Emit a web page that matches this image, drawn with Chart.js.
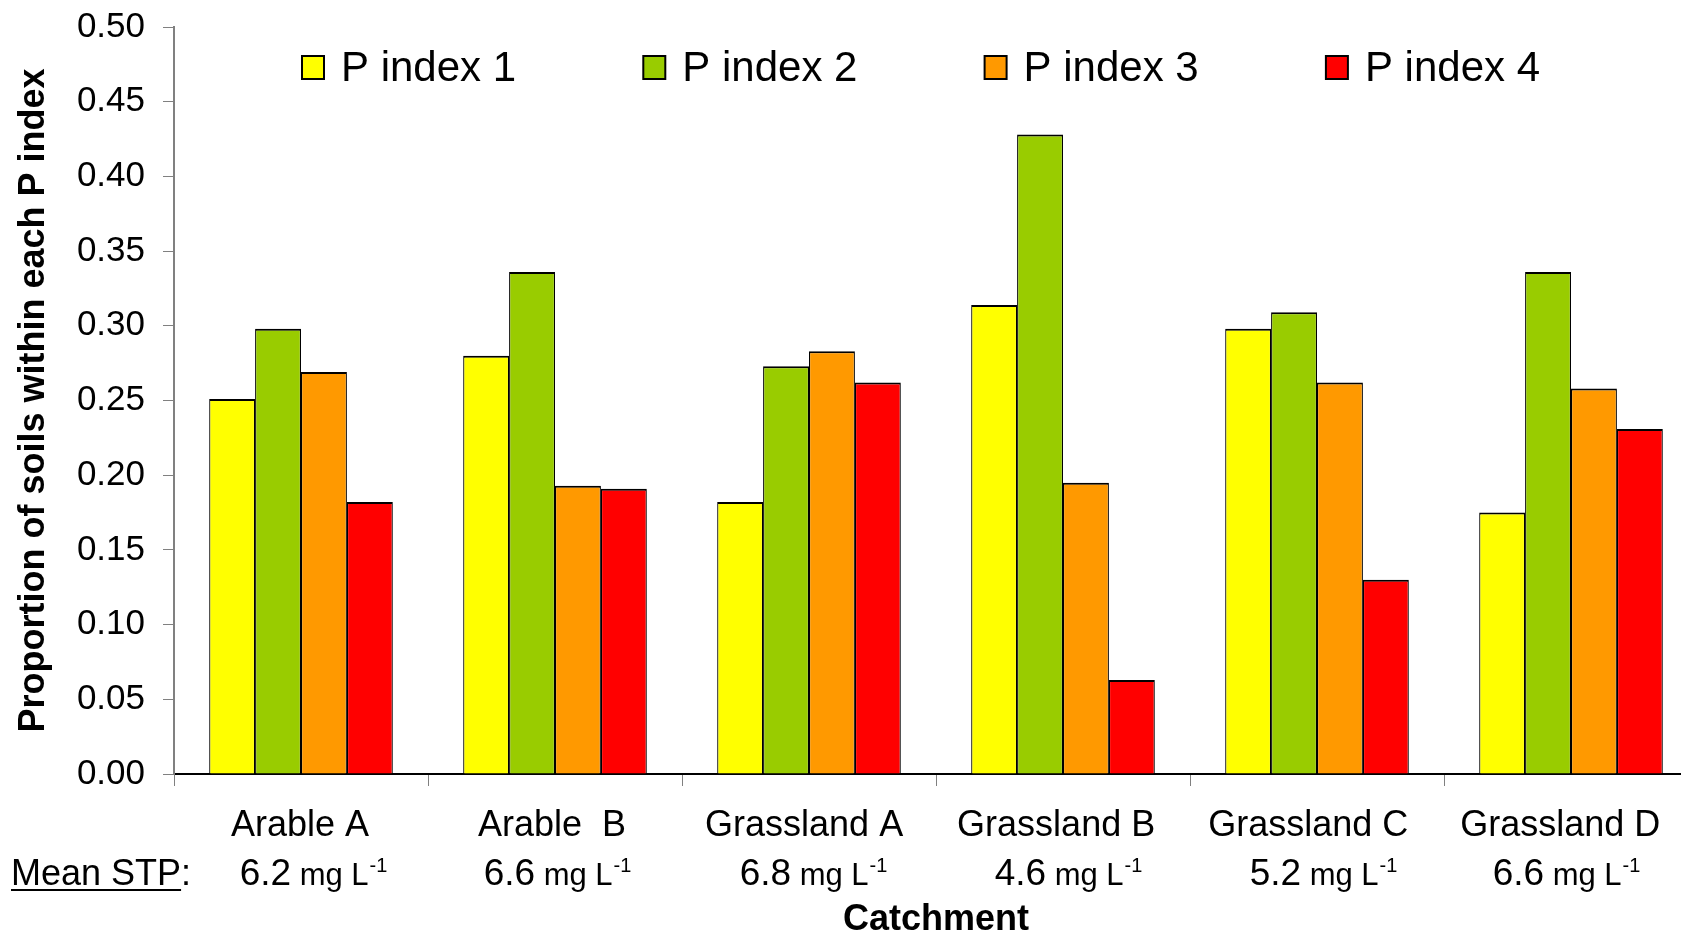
<!DOCTYPE html>
<html>
<head>
<meta charset="utf-8">
<title>Proportion of soils within each P index</title>
<script src="https://cdn.jsdelivr.net/npm/chart.js@4.4.1/dist/chart.umd.min.js"></script>
<style>
  html, body { margin: 0; padding: 0; background: #ffffff; overflow: hidden; }
  #wrap { width: 1720px; height: 932px; }
</style>
</head>
<body>
<div id="wrap"><canvas id="chart" width="1720" height="932"></canvas></div>
<script>
// Catchments and their mean soil test phosphorus (mg L-1)
const catchments = ['Arable A', 'Arable  B', 'Grassland A', 'Grassland B', 'Grassland C', 'Grassland D'];
const meanStp = [6.2, 6.6, 6.8, 4.6, 5.2, 6.6];

// Proportion of soils falling in each P index class
const pIndex1 = [0.251, 0.280, 0.182, 0.314, 0.298, 0.175];
const pIndex2 = [0.298, 0.336, 0.273, 0.428, 0.309, 0.336];
const pIndex3 = [0.269, 0.193, 0.283, 0.195, 0.262, 0.258];
const pIndex4 = [0.182, 0.191, 0.262, 0.063, 0.130, 0.231];

const seriesNames = ['P index 1', 'P index 2', 'P index 3', 'P index 4'];
const seriesColors = ['#FFFF00', '#99CC00', '#FF9900', '#FF0000'];

// Hand-placed horizontal nudges (px) for the STP text boxes under each catchment
const stpNudge = [12, 2, 4, 5, 6, -5];
// Category names sit at a slightly tighter pitch than the bar groups
const labelPitch = 0.9923;

const FONT = '"Liberation Sans", Arial, Helvetica, sans-serif';

// Legend laid out in a single row inside the plot area
const insideLegend = {
  id: 'insideLegend',
  afterDraw(chart) {
    const ctx = chart.ctx;
    ctx.save();
    ctx.font = '42px ' + FONT;
    ctx.textBaseline = 'middle';
    ctx.textAlign = 'left';
    chart.data.datasets.forEach((ds, i) => {
      const x = 302 + i * 341.3;
      const y = 67;
      ctx.fillStyle = ds.backgroundColor;
      ctx.fillRect(x, y - 11, 22, 23);
      ctx.strokeStyle = '#000000';
      ctx.lineWidth = 2;
      ctx.strokeRect(x, y - 11, 22, 23);
      ctx.fillStyle = '#000000';
      ctx.fillText(ds.label, x + 39, y + 2);
    });
    ctx.restore();
  }
};

// Category names and, below them, the mean STP of each catchment
const categoryRows = {
  id: 'categoryRows',
  afterDraw(chart) {
    const ctx = chart.ctx;
    const xs = chart.scales.x;
    const left = chart.chartArea.left;
    ctx.save();
    ctx.fillStyle = '#000000';

    // first row: catchment names
    ctx.font = '36px ' + FONT;
    ctx.textAlign = 'center';
    ctx.textBaseline = 'middle';
    catchments.forEach((name, i) => {
      const cx = left + (xs.getPixelForValue(i) - left) * labelPitch;
      ctx.fillText(name, cx, 826);
    });

    // second row: mean STP
    const base = 885;
    ctx.textAlign = 'left';
    ctx.textBaseline = 'alphabetic';
    ctx.font = '36px ' + FONT;
    const head = 'Mean STP';
    const hw = ctx.measureText(head).width;
    ctx.fillText(head, 11, base);
    ctx.fillText(':', 11 + hw, base);
    ctx.fillRect(11, base + 4, hw, 2);

    meanStp.forEach((v, i) => {
      const num = v.toFixed(1);
      const unit = ' mg L';
      const sup = '-1';
      ctx.font = '37px ' + FONT;
      const wn = ctx.measureText(num).width;
      ctx.font = '31px ' + FONT;
      const wu = ctx.measureText(unit).width;
      ctx.font = '20px ' + FONT;
      const ws = ctx.measureText(sup).width;
      const cx = xs.getPixelForValue(i) + stpNudge[i];
      let x = cx - (wn + wu + ws) / 2;
      ctx.font = '37px ' + FONT;
      ctx.fillText(num, x, base);
      x += wn;
      ctx.font = '31px ' + FONT;
      ctx.fillText(unit, x, base);
      x += wu;
      ctx.font = '20px ' + FONT;
      ctx.fillText(sup, x + 1, base - 13);
    });
    ctx.restore();
  }
};

const series = [pIndex1, pIndex2, pIndex3, pIndex4];

new Chart(document.getElementById('chart'), {
  type: 'bar',
  data: {
    labels: catchments,
    datasets: series.map((vals, i) => ({
      label: seriesNames[i],
      data: vals,
      backgroundColor: seriesColors[i],
      borderColor: '#000000',
      borderWidth: { top: 2, left: 1.2, right: 1.2, bottom: 0 },
      borderSkipped: false,
      categoryPercentage: 0.723,
      barPercentage: 1.0
    }))
  },
  options: {
    responsive: false,
    animation: false,
    devicePixelRatio: 1,
    layout: { padding: { top: 27, right: 22, left: 0, bottom: 0 } },
    plugins: {
      legend: { display: false },
      tooltip: { enabled: false }
    },
    scales: {
      x: {
        afterFit(scale) { scale.height = 158; },
        grid: {
          offset: true,
          drawOnChartArea: false,
          drawTicks: true,
          tickLength: 12,
          color: '#808080',
          lineWidth: 1
        },
        border: { display: true, color: '#000000', width: 2 },
        ticks: { display: false },
        title: {
          display: true,
          text: 'Catchment',
          color: '#000000',
          font: { family: FONT, size: 36, weight: 'bold', lineHeight: 1 },
          padding: { top: 0, bottom: -6 }
        }
      },
      y: {
        min: 0,
        max: 0.5,
        afterFit(scale) {
          scale.width = 174;
          scale.paddingTop = 0;
          scale.paddingBottom = 0;
        },
        grid: {
          drawOnChartArea: false,
          drawTicks: true,
          tickLength: 11,
          color: '#808080',
          lineWidth: 1
        },
        border: { display: true, color: '#808080', width: 2 },
        ticks: {
          stepSize: 0.05,
          color: '#000000',
          padding: 18,
          font: { family: FONT, size: 35 },
          callback: v => Number(v).toFixed(2)
        },
        title: {
          display: true,
          text: 'Proportion of soils within each P index',
          color: '#000000',
          font: { family: FONT, size: 36, weight: 'bold', lineHeight: 1.2 },
          padding: { top: 12, bottom: 0 }
        }
      }
    }
  },
  plugins: [insideLegend, categoryRows]
});
</script>
</body>
</html>
